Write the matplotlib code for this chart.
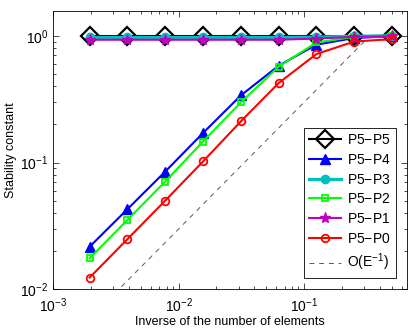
import matplotlib
matplotlib.use("Agg")
import matplotlib.pyplot as plt
import numpy as np

plt.rcParams["font.family"] = ["Liberation Sans", "DejaVu Sans"]
plt.rcParams["mathtext.fontset"] = "custom"
plt.rcParams["mathtext.rm"] = "Liberation Sans"
plt.rcParams["mathtext.it"] = "Liberation Sans"

# inverse number of elements
h = [1/512, 1/256, 1/128, 1/64, 1/32, 1/16, 1/8, 1/4, 1/2]

p5_p5 = [1.0, 1.0, 1.0, 1.0, 1.0, 1.0, 1.0, 1.0, 1.0]
p5_p4 = [0.0217, 0.0429, 0.0849, 0.171, 0.338, 0.58, 0.85, 0.96, 0.99]
p5_p3 = [0.97, 0.97, 0.97, 0.97, 0.97, 0.97, 0.975, 0.99, 1.0]
p5_p2 = [0.0176, 0.0353, 0.0708, 0.1465, 0.298, 0.57, 0.885, 0.98, 1.0]
p5_p1 = [0.93, 0.93, 0.93, 0.93, 0.93, 0.93, 0.95, 0.98, 0.99]
p5_p0 = [0.0124, 0.0249, 0.0501, 0.102, 0.211, 0.423, 0.717, 0.90, 0.94]

ref_x = [0.0035, 0.334]
ref_y = [0.0105, 1.0]

fig = plt.figure(figsize=(4.15, 3.3), dpi=100)
ax = fig.add_axes([0.128, 0.123, 0.852, 0.844])

lw = 1.5
ax.plot(h, p5_p5, "-", color="k", lw=lw, marker="D", ms=9, mfc="none",
        mec="k", mew=1.6, label="P5$-$P5")
ax.plot(h, p5_p4, "-", color="b", lw=lw, marker="^", ms=6.5, mfc="b",
        mec="b", label="P5$-$P4")
ax.plot(h, p5_p3, "-", color="c", lw=lw + 0.8, marker="o", ms=6, mfc="c",
        mec="c", label="P5$-$P3")
ax.plot(h, p5_p2, "-", color="#00ff00", lw=lw, marker="s", ms=4.5, mfc="none",
        mec="#00ff00", mew=1.3, label="P5$-$P2")
ax.plot(h, p5_p1, "-", color="m", lw=lw, marker="*", ms=8, mfc="m",
        mec="m", label="P5$-$P1")
ax.plot(h, p5_p0, "-", color="r", lw=lw, marker="o", ms=5.5, mfc="none",
        mec="r", mew=1.3, label="P5$-$P0")
ax.plot(ref_x, ref_y, "--", color="0.35", lw=0.7, dashes=(5, 5),
        label="O(E$^{-1}$)")

ax.set_xscale("log")
ax.set_yscale("log")
ax.set_xlim(1e-3, 0.655)
ax.set_ylim(1e-2, 1.57)
ax.set_xticks([1e-3, 1e-2, 1e-1])
ax.set_yticks([1e-2, 1e-1, 1e0])
ax.tick_params(which="both", direction="in", top=True, right=True,
               labelsize=10, width=0.5)
ax.tick_params(axis="x", which="major", pad=5)
ax.tick_params(which="major", length=4)
ax.tick_params(which="minor", length=2)
for s in ax.spines.values():
    s.set_linewidth(0.6)

ax.set_xlabel("Inverse of the number of elements", fontsize=9, labelpad=1)
ax.set_ylabel("Stability constant", fontsize=9, labelpad=2)

leg = ax.legend(loc="lower right", fontsize=10, frameon=True, fancybox=False,
                edgecolor="k", framealpha=1, handlelength=2.3,
                borderaxespad=0.8, labelspacing=0.42, handletextpad=0.45,
                borderpad=0.35)
leg.get_frame().set_linewidth(0.6)

fig.savefig("out.png", dpi=100)
